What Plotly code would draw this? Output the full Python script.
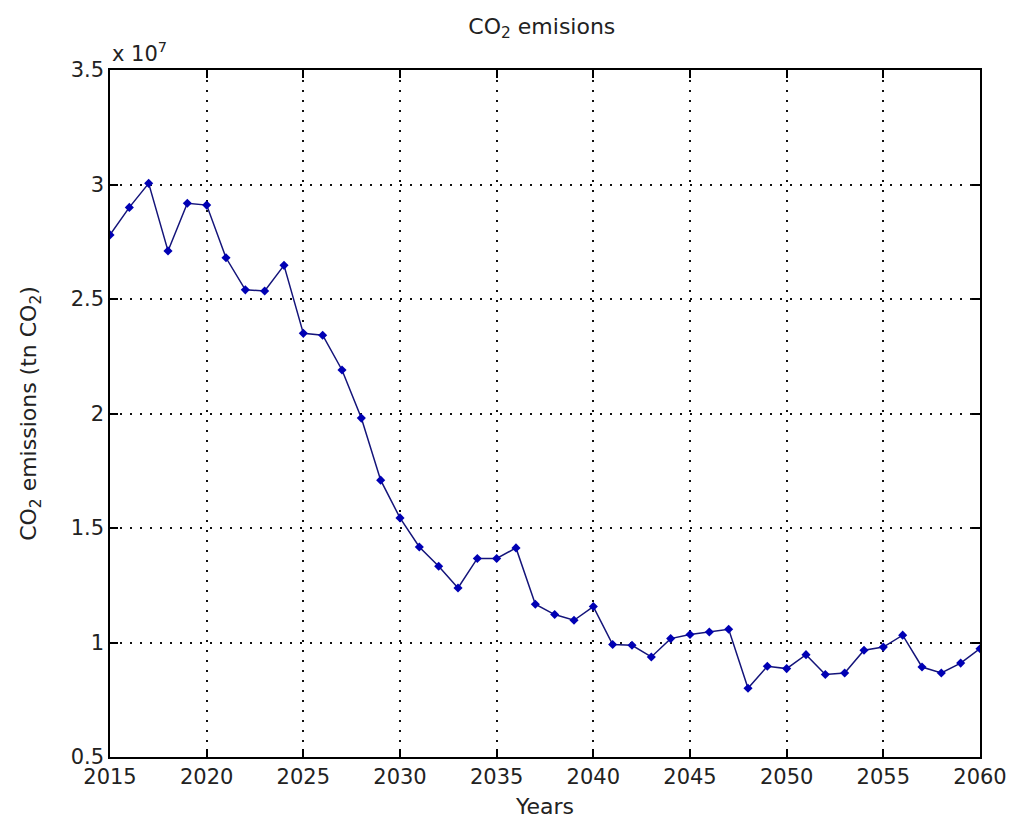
import plotly.graph_objects as go

# Annual CO2 emissions, tonnes of CO2
years = list(range(2015, 2061))
emissions = [
    2.78e7, 2.90e7, 3.005e7, 2.71e7, 2.918e7, 2.91e7, 2.68e7, 2.54e7, 2.535e7, 2.647e7,
    2.35e7, 2.342e7, 2.19e7, 1.98e7, 1.709e7, 1.544e7, 1.417e7, 1.333e7, 1.238e7, 1.367e7,
    1.367e7, 1.413e7, 1.167e7, 1.122e7, 1.097e7, 1.157e7, 0.991e7, 0.988e7, 0.937e7, 1.017e7,
    1.035e7, 1.046e7, 1.058e7, 0.80e7, 0.896e7, 0.886e7, 0.947e7, 0.86e7, 0.867e7, 0.966e7,
    0.98e7, 1.032e7, 0.893e7, 0.867e7, 0.91e7, 0.973e7,
]

x_ticks = list(range(2015, 2061, 5))
y_ticks = [0.5e7, 1.0e7, 1.5e7, 2.0e7, 2.5e7, 3.0e7, 3.5e7]
y_tick_text = ["0.5", "1", "1.5", "2", "2.5", "3", "3.5"]

FONT = "DejaVu Sans"
TEXT = "#222"

fig = go.Figure()
fig.add_trace(go.Scatter(
    x=years, y=emissions, mode="lines+markers",
    line=dict(color="#14147a", width=1.5),
    marker=dict(symbol="diamond", size=7, color="#0000b4"),
    showlegend=False,
))

axis_common = dict(
    showline=True, linecolor="black", linewidth=1.5, mirror="ticks",
    ticks="inside", ticklen=8, tickcolor="black", tickwidth=1.5,
    showgrid=True, gridcolor="#111", griddash="2px,8px", gridwidth=1.5,
    zeroline=False, automargin=False,
    tickfont=dict(family=FONT, size=21, color=TEXT),
)

fig.update_xaxes(range=[2015, 2060], tickvals=x_ticks,
                 title=dict(text="Years", font=dict(family=FONT, size=22, color=TEXT), standoff=11),
                 **axis_common)
fig.update_yaxes(range=[0.5e7, 3.5e7], tickvals=y_ticks, ticktext=y_tick_text,
                 title=dict(text="CO<sub>2</sub> emissions (tn CO<sub>2</sub>)",
                            font=dict(family=FONT, size=22, color=TEXT), standoff=28),
                 **axis_common)

fig.update_layout(
    width=1009, height=823,
    margin=dict(l=110, r=29, t=70, b=66),
    paper_bgcolor="white", plot_bgcolor="white",
    title=dict(text="CO<sub>2</sub> emisions", x=0.537, xanchor="center", y=0.978, yanchor="top",
               font=dict(family=FONT, size=22, color=TEXT)),
    annotations=[dict(
        text="x 10<sup>7</sup>", xref="paper", yref="paper", x=0, y=1,
        xanchor="left", yanchor="bottom", showarrow=False, yshift=2,
        font=dict(family=FONT, size=21, color=TEXT),
    )],
)

fig.write_html("out.html")
